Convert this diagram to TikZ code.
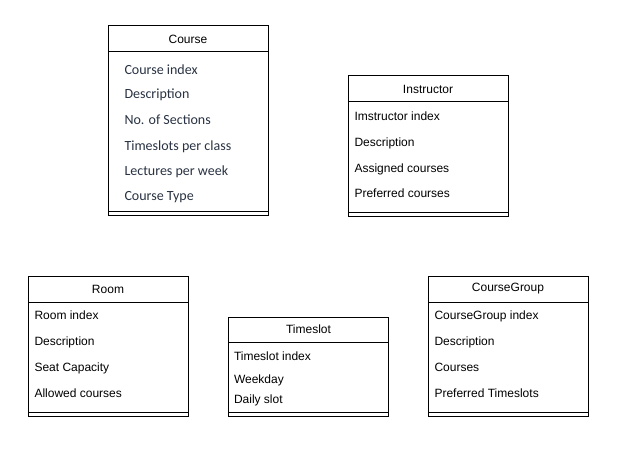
\documentclass[tikz,border=0pt]{standalone}
\usepackage{fontspec}
\setmainfont{Liberation Sans}
\newfontfamily\calibrifont{Carlito}
\usepackage{tikz}
\usetikzlibrary{positioning}
\usepackage{xcolor}
\definecolor{fieldblue}{RGB}{40,50,66}

\begin{document}
\begin{tikzpicture}[%
    x=1pt,
    y=-1pt,
    line width=1pt,
    classhead/.style={%
      rectangle,
      draw,
      inner sep=0pt,
      outer sep=0pt,
      minimum width=160pt,
      minimum height=26pt,
      font=\fontsize{12}{14}\selectfont
    },
    classbody/.style={%
      rectangle,
      draw,
      inner sep=0pt,
      outer sep=0pt,
      minimum width=160pt
    },
    classfoot/.style={%
      classbody,
      minimum height=4pt
    },
    field/.style={%
      inner sep=0pt,
      text height=9pt,
      text depth=2.5pt,
      font=\fontsize{12}{14}\selectfont
    },
    coursefield/.style={%
      field,
      text=fieldblue,
      text height=10pt,
      text depth=3pt,
      font=\calibrifont\fontsize{14}{16}\selectfont
    }
  ]
    \useasboundingbox (0,0) rectangle (623,465);

    % Course
    \node[classhead] (coursehead) at (188,39)                              {Course};
    \node[classbody,minimum height=159pt] (coursebody) [below=0pt of coursehead] {};
    \node[classfoot] (coursefoot) [below=0pt of coursebody]               {};
    \node[coursefield] (c1) [below right=19pt and 16pt of coursehead.south west,anchor=west] {Course index};
    \node[coursefield] (c2) [below=24pt of c1.west,anchor=west]  {Description};
    \node[coursefield] (c3) [below=26pt of c2.west,anchor=west]  {No. of Sections};
    \node[coursefield] (c4) [below=26pt of c3.west,anchor=west]  {Timeslots per class};
    \node[coursefield] (c5) [below=25pt of c4.west,anchor=west]  {Lectures per week};
    \node[coursefield] (c6) [below=25pt of c5.west,anchor=west]  {Course Type};

    % Instructor
    \node[classhead] (instrhead) at (428,89)                               {Instructor};
    \node[classbody,minimum height=110pt] (instrbody) [below=0pt of instrhead] {};
    \node[classfoot] (instrfoot) [below=0pt of instrbody]                 {};
    \node[field] (i1) [below right=15.5pt and 6pt of instrhead.south west,anchor=west] {Imstructor index};
    \node[field] (i2) [below=26pt of i1.west,anchor=west]  {Description};
    \node[field] (i3) [below=26pt of i2.west,anchor=west]  {Assigned courses};
    \node[field] (i4) [below=25pt of i3.west,anchor=west]  {Preferred courses};

    % Room
    \node[classhead] (roomhead) at (108,289)                               {Room};
    \node[classbody,minimum height=110pt] (roombody) [below=0pt of roomhead] {};
    \node[classfoot] (roomfoot) [below=0pt of roombody]                   {};
    \node[field] (r1) [below right=14.5pt and 6pt of roomhead.south west,anchor=west] {Room index};
    \node[field] (r2) [below=26pt of r1.west,anchor=west]  {Description};
    \node[field] (r3) [below=26pt of r2.west,anchor=west]  {Seat Capacity};
    \node[field] (r4) [below=26pt of r3.west,anchor=west]  {Allowed courses};

    % Timeslot
    \node[classhead,minimum height=25pt] (slothead) at (308.5,329.5)       {Timeslot};
    \node[classbody,minimum height=70pt] (slotbody) [below=0pt of slothead] {};
    \node[classfoot] (slotfoot) [below=0pt of slotbody]                   {};
    \node[field] (t1) [below right=15pt and 5pt of slothead.south west,anchor=west] {Timeslot index};
    \node[field] (t2) [below=23pt of t1.west,anchor=west]  {Weekday};
    \node[field] (t3) [below=20pt of t2.west,anchor=west]  {Daily slot};

    % CourseGroup
    \node[classhead] (grouphead) at (508,289)                              {CourseGroup};
    \node[classbody,minimum height=110pt] (groupbody) [below=0pt of grouphead] {};
    \node[classfoot] (groupfoot) [below=0pt of groupbody]                 {};
    \node[field] (g1) [below right=14.5pt and 6pt of grouphead.south west,anchor=west] {CourseGroup index};
    \node[field] (g2) [below=26pt of g1.west,anchor=west]  {Description};
    \node[field] (g3) [below=26pt of g2.west,anchor=west]  {Courses};
    \node[field] (g4) [below=26pt of g3.west,anchor=west]  {Preferred Timeslots};
  \end{tikzpicture}
\end{document}
